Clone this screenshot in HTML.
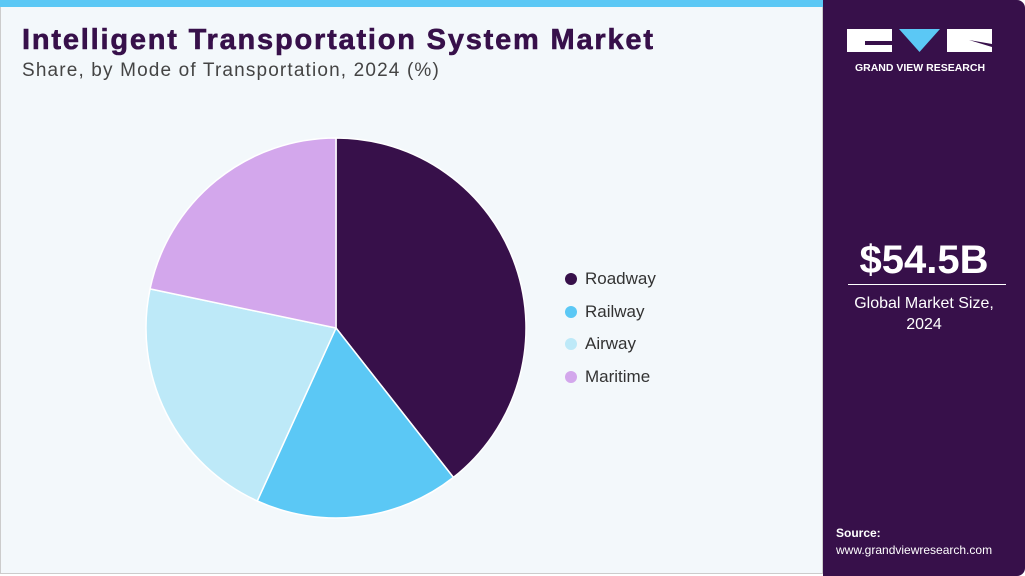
<!DOCTYPE html>
<html><head><meta charset="utf-8"><style>
body{margin:0;width:1025px;height:576px;overflow:hidden;font-family:"Liberation Sans",sans-serif;background:#fff}
#main{position:absolute;left:0;top:0;width:823px;height:574px;background:#f3f8fb;border:1px solid #ccc;box-sizing:border-box}
#topbar{position:absolute;left:0;top:0;width:823px;height:7px;background:#5bc8f5}
#side{position:absolute;left:823px;top:0;width:202px;height:576px;background:#37104a;border-radius:0 8px 8px 0}
h1{position:absolute;left:22px;top:24px;margin:0;font-size:29px;font-weight:bold;color:#37104a;letter-spacing:1.8px;-webkit-text-stroke:0.6px #37104a}
.sub{position:absolute;left:22px;top:60px;font-size:19px;color:#444;letter-spacing:1.15px}
.leg{position:absolute;left:565px;font-size:17px;color:#333}
.leg span{display:inline-block;width:12px;height:12px;border-radius:50%;margin-right:8px;vertical-align:-1px}
</style></head><body>
<div id="main"></div>
<div id="topbar"></div>
<h1>Intelligent Transportation System Market</h1>
<div class="sub">Share, by Mode of Transportation, 2024 (%)</div>
<svg id="pie" width="823" height="576" style="position:absolute;left:0;top:0"></svg>
<div class="leg" style="top:269px"><span style="background:#37104a"></span>Roadway</div>
<div class="leg" style="top:302px"><span style="background:#5bc8f5"></span>Railway</div>
<div class="leg" style="top:334px"><span style="background:#bde9f8"></span>Airway</div>
<div class="leg" style="top:367px"><span style="background:#d3a7ec"></span>Maritime</div>
<div id="side">
<svg width="202" height="80" style="position:absolute;left:0;top:0">
<rect x="24" y="29" width="45" height="23" fill="#fff"/><rect x="42" y="41" width="27" height="4" fill="#37104a"/>
<polygon points="76,29 117,29 96.5,52" fill="#5bc8f5"/>
<rect x="124" y="29" width="45" height="23" fill="#fff"/><polygon points="146,40 169,47 169,44" fill="#37104a"/>
<text x="97" y="71" text-anchor="middle" font-size="10.5" font-weight="bold" fill="#fff" font-family="Liberation Sans">GRAND VIEW RESEARCH</text>
</svg>
<div style="position:absolute;left:0;width:202px;top:238px;text-align:center;color:#fff;font-size:40px;font-weight:bold">$54.5B</div>
<div style="position:absolute;left:25px;width:158px;top:284px;border-top:1px solid #fff"></div>
<div style="position:absolute;left:0;width:202px;top:293px;text-align:center;color:#fff;font-size:16px;line-height:21px">Global Market Size,<br>2024</div>
<div style="position:absolute;left:13px;top:526px;color:#fff;font-size:12px;font-weight:bold">Source:</div>
<div style="position:absolute;left:13px;top:543px;color:#fff;font-size:12px">www.grandviewresearch.com</div>
</div>
<script>
const categories=["Roadway","Railway","Airway","Maritime"];
const values=[39.4,17.4,21.5,21.7];
const colors=["#37104a","#5bc8f5","#bde9f8","#d3a7ec"];
const svg=document.getElementById('pie');
const cx=336,cy=328,r=190;
const total=values.reduce((a,b)=>a+b,0);
let a0=0;
values.forEach((v,i)=>{
  const a1=a0+v/total*2*Math.PI;
  const x0=cx+r*Math.sin(a0),y0=cy-r*Math.cos(a0),x1=cx+r*Math.sin(a1),y1=cy-r*Math.cos(a1);
  const p=document.createElementNS('http://www.w3.org/2000/svg','path');
  p.setAttribute('d',`M${cx},${cy}L${x0},${y0}A${r},${r} 0 ${a1-a0>Math.PI?1:0} 1 ${x1},${y1}Z`);
  p.setAttribute('fill',colors[i]);p.setAttribute('stroke','#fff');p.setAttribute('stroke-width','1.5');
  
  
  svg.appendChild(p);a0=a1;
});
</script>
</body></html>
